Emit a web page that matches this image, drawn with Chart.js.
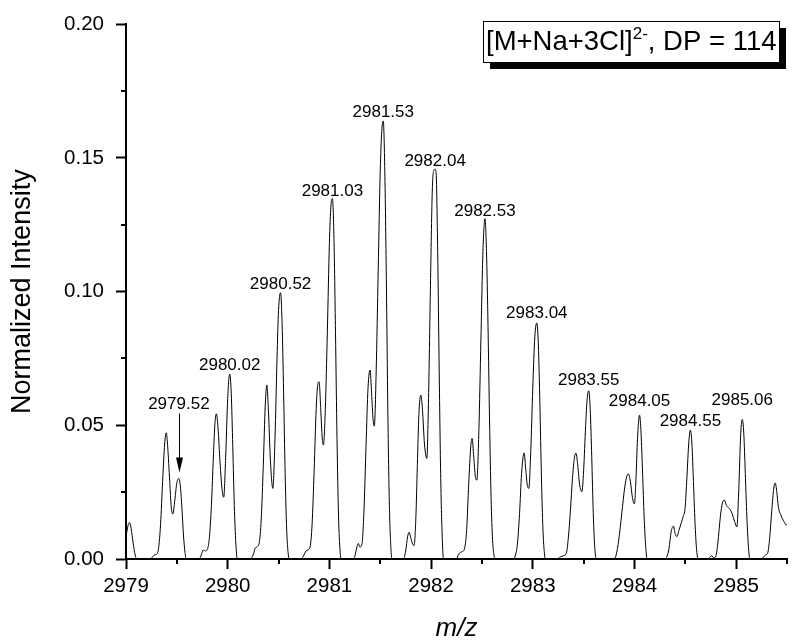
<!DOCTYPE html>
<html>
<head>
<meta charset="utf-8">
<script src="https://cdn.jsdelivr.net/npm/chart.js@4.4.1/dist/chart.umd.min.js"></script>
<style>
  html, body { margin: 0; padding: 0; background: #fff; }
  canvas { display: block; }
</style>
</head>
<body>
<canvas id="spectrum" width="792" height="642"></canvas>
<script>
// Isotope envelope of the [M+Na+3Cl]2- ion, DP = 114 (m/z, normalized intensity)
// Profile points between the labelled apexes
const profile = [
  [2978.98, 0.0040], [2979.00, 0.0083], [2979.02, 0.0125], [2979.035, 0.0136], [2979.05, 0.0115],
  [2979.07, 0.0060], [2979.09, 0.0015], [2979.105, 0],

  [2979.24, 0], [2979.26, 0.0008], [2979.28, 0.0015], [2979.30, 0.0017], [2979.32, 0.0040],
  [2979.34, 0.0130], [2979.36, 0.0290], [2979.38, 0.0430], [2979.396, 0.0472], [2979.41, 0.0420],
  [2979.43, 0.0290], [2979.445, 0.0195], [2979.461, 0.0168], [2979.48, 0.0220], [2979.50, 0.0285],
  [2979.535, 0.0270], [2979.55, 0.0190], [2979.565, 0.0090], [2979.58, 0.0025], [2979.592, 0],

  [2979.72, 0], [2979.74, 0.0015], [2979.76, 0.0034], [2979.78, 0.0030], [2979.80, 0.0036],
  [2979.82, 0.0080], [2979.84, 0.0200], [2979.86, 0.0390], [2979.875, 0.0510], [2979.889, 0.0543],
  [2979.905, 0.0490], [2979.925, 0.0360], [2979.945, 0.0260], [2979.961, 0.0231], [2979.98, 0.0380],
  [2980.00, 0.0600], [2980.035, 0.0620], [2980.05, 0.0420], [2980.065, 0.0200], [2980.08, 0.0060],
  [2980.095, 0],

  [2980.22, 0], [2980.25, 0.0015], [2980.27, 0.0040], [2980.29, 0.0046], [2980.31, 0.0060],
  [2980.33, 0.0150], [2980.35, 0.0350], [2980.37, 0.0580], [2980.385, 0.0651], [2980.40, 0.0560],
  [2980.42, 0.0370], [2980.444, 0.0264], [2980.465, 0.0450], [2980.485, 0.0750], [2980.50, 0.0930],
  [2980.535, 0.0880], [2980.55, 0.0620], [2980.565, 0.0320], [2980.58, 0.0110], [2980.595, 0.0020],
  [2980.605, 0],

  [2980.72, 0], [2980.75, 0.0015], [2980.77, 0.0030], [2980.79, 0.0034], [2980.81, 0.0045],
  [2980.83, 0.0130], [2980.85, 0.0330], [2980.87, 0.0560], [2980.885, 0.0650], [2980.899, 0.0663],
  [2980.915, 0.0560], [2980.93, 0.0450], [2980.941, 0.0426], [2980.96, 0.0560], [2980.98, 0.0850],
  [2981.00, 0.1180], [2981.015, 0.1320], [2981.045, 0.1200], [2981.06, 0.0850], [2981.075, 0.0450],
  [2981.09, 0.0160], [2981.105, 0.0030], [2981.115, 0],

  [2981.23, 0], [2981.25, 0.0010], [2981.27, 0.0045], [2981.285, 0.0058], [2981.30, 0.0045],
  [2981.32, 0.0055], [2981.34, 0.0180], [2981.36, 0.0420], [2981.38, 0.0640], [2981.40, 0.0707],
  [2981.415, 0.0620], [2981.43, 0.0520], [2981.442, 0.0497], [2981.46, 0.0700], [2981.48, 0.1080],
  [2981.50, 0.1450], [2981.515, 0.1600], [2981.545, 0.1450], [2981.56, 0.1050], [2981.575, 0.0550],
  [2981.59, 0.0200], [2981.605, 0.0040], [2981.615, 0],

  [2981.73, 0], [2981.75, 0.0030], [2981.77, 0.0085], [2981.784, 0.0100], [2981.80, 0.0080],
  [2981.82, 0.0055], [2981.833, 0.0050], [2981.85, 0.0150], [2981.865, 0.0350], [2981.88, 0.0540],
  [2981.899, 0.0613], [2981.915, 0.0560], [2981.935, 0.0430], [2981.958, 0.0376], [2981.975, 0.0600],
  [2981.995, 0.1050], [2982.012, 0.1380], [2982.025, 0.1452], [2982.05, 0.1440], [2982.065, 0.1150],
  [2982.08, 0.0700], [2982.095, 0.0300], [2982.11, 0.0080], [2982.122, 0],

  [2982.25, 0], [2982.27, 0.0018], [2982.29, 0.0025], [2982.31, 0.0028], [2982.33, 0.0040],
  [2982.35, 0.0110], [2982.37, 0.0280], [2982.39, 0.0420], [2982.403, 0.0451], [2982.42, 0.0380],
  [2982.435, 0.0310], [2982.45, 0.0295], [2982.47, 0.0480], [2982.49, 0.0820], [2982.51, 0.1150],
  [2982.545, 0.1150], [2982.56, 0.0870], [2982.575, 0.0520], [2982.59, 0.0230], [2982.605, 0.0070],
  [2982.62, 0.0010], [2982.63, 0],

  [2982.81, 0], [2982.83, 0.0015], [2982.85, 0.0060], [2982.87, 0.0170], [2982.89, 0.0320],
  [2982.915, 0.0397], [2982.93, 0.0340], [2982.945, 0.0280], [2982.961, 0.0264], [2982.98, 0.0400],
  [2983.00, 0.0640], [2983.02, 0.0830], [2983.055, 0.0800], [2983.07, 0.0580], [2983.085, 0.0310],
  [2983.10, 0.0110], [2983.115, 0.0020], [2983.125, 0],

  [2983.24, 0], [2983.27, 0.0008], [2983.30, 0.0012], [2983.33, 0.0022], [2983.35, 0.0080],
  [2983.37, 0.0180], [2983.39, 0.0300], [2983.41, 0.0380], [2983.424, 0.0396], [2983.44, 0.0360],
  [2983.46, 0.0280], [2983.483, 0.0252], [2983.50, 0.0330], [2983.52, 0.0500], [2983.535, 0.0600],
  [2983.565, 0.0560], [2983.58, 0.0380], [2983.595, 0.0170], [2983.61, 0.0040], [2983.625, 0],

  [2983.80, 0], [2983.82, 0.0015], [2983.845, 0.0070], [2983.875, 0.0170], [2983.905, 0.0270],
  [2983.925, 0.0310], [2983.941, 0.0318], [2983.96, 0.0290], [2983.98, 0.0230], [2984.00, 0.0206],
  [2984.015, 0.0300], [2984.03, 0.0450], [2984.065, 0.0470], [2984.08, 0.0320], [2984.095, 0.0160],
  [2984.11, 0.0050], [2984.125, 0],

  [2984.30, 0], [2984.32, 0.0010], [2984.34, 0.0040], [2984.36, 0.0100], [2984.384, 0.0123],
  [2984.40, 0.0095], [2984.417, 0.0084], [2984.44, 0.0110], [2984.46, 0.0135], [2984.48, 0.0160],
  [2984.498, 0.0190], [2984.515, 0.0300], [2984.535, 0.0440], [2984.565, 0.0430], [2984.58, 0.0290],
  [2984.595, 0.0140], [2984.61, 0.0040], [2984.625, 0],

  [2984.72, 0], [2984.745, 0.0008], [2984.76, 0.0012], [2984.78, 0.0004], [2984.80, 0.0010],
  [2984.82, 0.0060], [2984.845, 0.0160], [2984.865, 0.0210], [2984.885, 0.0220], [2984.905, 0.0200],
  [2984.925, 0.0192], [2984.941, 0.0185], [2984.96, 0.0170], [2984.985, 0.0140], [2985.007, 0.0120],
  [2985.025, 0.0250], [2985.045, 0.0470], [2985.075, 0.0470], [2985.09, 0.0320], [2985.105, 0.0160],
  [2985.12, 0.0050], [2985.135, 0],

  [2985.25, 0], [2985.27, 0.0008], [2985.29, 0.0016], [2985.31, 0.0022], [2985.33, 0.0080],
  [2985.35, 0.0180], [2985.37, 0.0265], [2985.384, 0.0284], [2985.40, 0.0250], [2985.415, 0.0195],
  [2985.44, 0.0164], [2985.47, 0.0140], [2985.49, 0.0128], [2985.51, 0.0135], [2985.53, 0.0170]
];

// Labelled isotope peaks (apex m/z and intensity)
const peakMz = [2979.52, 2980.02, 2980.52, 2981.03, 2981.53, 2982.04,
                2982.53, 2983.04, 2983.55, 2984.05, 2984.55, 2985.06];
const peakHeight = [0.0301, 0.0692, 0.0996, 0.1348, 0.1638, 0.1458,
                    0.1273, 0.0883, 0.0629, 0.0538, 0.0482, 0.0522];
const peakText = peakMz.map(v => v.toFixed(2));

// Axis ticks
const xTicks = [2979, 2980, 2981, 2982, 2983, 2984, 2985];
const xMinor = [2979.5, 2980.5, 2981.5, 2982.5, 2983.5, 2984.5, 2985.5];
const yTicks = [0, 0.05, 0.10, 0.15, 0.20];
const yMinor = [0.025, 0.075, 0.125, 0.175];

// Ion tag
const ionText = '[M+Na+3Cl]';
const chargeText = '2-';
const dpText = ', DP = 114';

const FONT = "'Liberation Sans', Arial, Helvetica, sans-serif";

// Profile + apexes, sorted by m/z
const points = profile.map(p => ({ x: p[0], y: p[1] }))
  .concat(peakMz.map((mz, i) => ({ x: mz, y: peakHeight[i] })))
  .sort((a, b) => a.x - b.x);

const minorTicks = {
  id: 'minorTicks',
  afterDraw(chart, args, opts) {
    const { ctx, chartArea, scales: { x, y } } = chart;
    ctx.save();
    ctx.strokeStyle = '#000';
    ctx.lineWidth = opts.width;
    ctx.beginPath();
    xMinor.forEach(v => {
      const px = Math.round(x.getPixelForValue(v));
      ctx.moveTo(px, chartArea.bottom);
      ctx.lineTo(px, chartArea.bottom + opts.length);
    });
    yMinor.forEach(v => {
      const py = Math.round(y.getPixelForValue(v));
      ctx.moveTo(chartArea.left, py);
      ctx.lineTo(chartArea.left - opts.length, py);
    });
    ctx.stroke();
    ctx.restore();
  }
};

const peakLabels = {
  id: 'peakLabels',
  afterDatasetsDraw(chart, args, opts) {
    const { ctx, scales: { x, y } } = chart;
    ctx.save();
    ctx.font = opts.font;
    ctx.fillStyle = '#000';
    ctx.strokeStyle = '#000';
    ctx.textAlign = 'center';
    ctx.textBaseline = 'alphabetic';
    peakMz.forEach((mz, i) => {
      const px = x.getPixelForValue(mz);
      const py = y.getPixelForValue(peakHeight[i]);
      const base = py - opts.lift[i];
      ctx.fillText(peakText[i], px, base);
      if (i === opts.arrowIndex) {
        const ax = Math.round(px) + 0.5;
        const start = base + 5;
        const tip = py - 6;
        ctx.lineWidth = 1;
        ctx.beginPath();
        ctx.moveTo(ax, start);
        ctx.lineTo(ax, tip - 10);
        ctx.stroke();
        ctx.beginPath();
        ctx.moveTo(ax - 3.5, tip - 15);
        ctx.lineTo(ax + 3.5, tip - 15);
        ctx.lineTo(ax, tip);
        ctx.closePath();
        ctx.fill();
      }
    });
    ctx.restore();
  }
};

const ionTag = {
  id: 'ionTag',
  afterDraw(chart, args, opts) {
    const { ctx, chartArea } = chart;
    const mainFont = opts.size + 'px ' + FONT;
    const supFont = opts.supSize + 'px ' + FONT;
    ctx.save();
    ctx.font = mainFont;
    const w1 = ctx.measureText(ionText).width;
    const w3 = ctx.measureText(dpText).width;
    ctx.font = supFont;
    const w2 = ctx.measureText(chargeText).width;
    const boxW = Math.round(w1 + w2 + w3 + 5);
    const boxH = opts.height;
    const right = Math.round(chartArea.right - opts.inset);
    const top = Math.round(chartArea.top - 3);
    const left = right - boxW;
    ctx.fillStyle = '#000';
    ctx.fillRect(left + opts.shadow, top + opts.shadow, boxW, boxH);
    ctx.fillStyle = '#fff';
    ctx.fillRect(left, top, boxW, boxH);
    ctx.strokeStyle = '#000';
    ctx.lineWidth = 1;
    ctx.strokeRect(left + 0.5, top + 0.5, boxW, boxH);
    ctx.fillStyle = '#000';
    ctx.textAlign = 'left';
    ctx.textBaseline = 'alphabetic';
    const base = top + opts.baseline;
    let tx = left + 3;
    ctx.font = mainFont;
    ctx.fillText(ionText, tx, base);
    tx += w1;
    ctx.font = supFont;
    ctx.fillText(chargeText, tx, base - opts.supRise);
    tx += w2;
    ctx.font = mainFont;
    ctx.fillText(dpText, tx, base);
    ctx.restore();
  }
};

new Chart(document.getElementById('spectrum'), {
  type: 'line',
  data: {
    datasets: [{
      data: points,
      borderColor: '#000',
      borderWidth: 1,
      pointRadius: 0,
      fill: false,
      cubicInterpolationMode: 'monotone'
    }]
  },
  options: {
    responsive: false,
    animation: false,
    devicePixelRatio: 1,
    layout: { padding: { top: 24, right: 5, left: 0, bottom: 0 } },
    plugins: {
      legend: { display: false },
      tooltip: { enabled: false },
      minorTicks: { length: 5, width: 2 },
      peakLabels: {
        font: '17px ' + FONT,
        lift: [70, 4, 4, 3, 4, 3, 3, 5, 6, 9, 4, 14],
        arrowIndex: 0
      },
      ionTag: { size: 27.5, supSize: 17, height: 41, inset: 8.5, shadow: 7, baseline: 29, supRise: 11 }
    },
    scales: {
      x: {
        type: 'linear',
        min: 2979,
        max: 2985.5,
        afterBuildTicks: s => { s.ticks = xTicks.map(v => ({ value: v })); },
        afterFit: s => { s.height = 83; },
        grid: { display: true, drawOnChartArea: false, drawTicks: true, tickLength: 10, tickColor: '#000', tickWidth: 2 },
        border: { display: true, color: '#000', width: 2 },
        ticks: {
          color: '#000',
          font: { family: FONT, size: 20.5 },
          padding: 5,
          maxRotation: 0,
          autoSkip: false,
          callback: v => Number(v).toFixed(0)
        },
        title: {
          display: true,
          text: 'm/z',
          color: '#000',
          font: { family: FONT, size: 26, style: 'italic', lineHeight: 1 },
          padding: { top: 0, bottom: 0 }
        }
      },
      y: {
        type: 'linear',
        min: 0,
        max: 0.2,
        afterBuildTicks: s => { s.ticks = yTicks.map(v => ({ value: v })); },
        afterFit: s => { s.width = 126; },
        grid: { display: true, drawOnChartArea: false, drawTicks: true, tickLength: 10, tickColor: '#000', tickWidth: 2 },
        border: { display: true, color: '#000', width: 2 },
        ticks: {
          color: '#000',
          font: { family: FONT, size: 20.5 },
          padding: 12,
          autoSkip: false,
          callback: v => Number(v).toFixed(2)
        },
        title: {
          display: true,
          text: 'Normalized Intensity',
          color: '#000',
          font: { family: FONT, size: 27 },
          padding: { top: 6, bottom: 0 }
        }
      }
    }
  },
  plugins: [minorTicks, peakLabels, ionTag]
});
</script>
</body>
</html>
